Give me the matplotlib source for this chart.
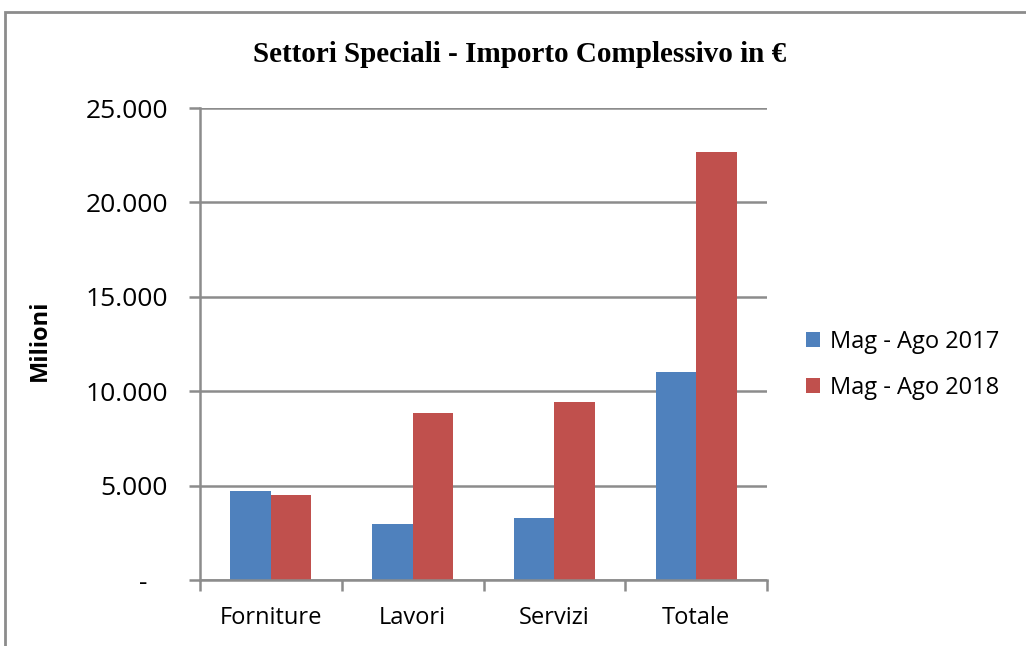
import matplotlib.pyplot as plt
import numpy as np
from matplotlib.patches import Rectangle
from matplotlib.ticker import FuncFormatter

categorie = ["Forniture", "Lavori", "Servizi", "Totale"]
serie_2017 = [4700, 2970, 3280, 11000]
serie_2018 = [4500, 8850, 9430, 22650]
nomi_serie = ["Mag - Ago 2017", "Mag - Ago 2018"]
colori = ["#4F81BD", "#C0504D"]

W, H = 1026, 646
fig = plt.figure(figsize=(W / 100, H / 100), dpi=100)

# cornice grigia del grafico
fig.patches.append(Rectangle((5 / W, -0.1), 1.2, 1 - 12 / H + 0.1, transform=fig.transFigure,
                             fill=False, edgecolor="#8c8c8c", linewidth=2))

ax = fig.add_axes([200 / W, 1 - 580 / H, (767 - 200) / W, (580 - 108) / H])

x = np.arange(len(categorie))
w = 0.285
ax.bar(x - w / 2, serie_2017, w, color=colori[0], label=nomi_serie[0])
ax.bar(x + w / 2, serie_2018, w, color=colori[1], label=nomi_serie[1])

ax.set_xlim(-0.5, len(categorie) - 0.5)
ax.set_ylim(0, 25000)
ax.set_yticks(np.arange(0, 25001, 5000))
ax.yaxis.set_major_formatter(FuncFormatter(lambda v, p: "-   " if v == 0 else f"{int(v):,}".replace(",", ".")))
ax.grid(axis="y", color="#8c8c8c", linewidth=1.8)
ax.set_axisbelow(True)

for s in ["top", "right"]:
    ax.spines[s].set_visible(False)
ax.spines["left"].set_color("#8c8c8c")
ax.spines["bottom"].set_color("#8c8c8c")
ax.spines["left"].set_linewidth(1.8)
ax.spines["bottom"].set_linewidth(1.8)

ax.set_xticks(x)
ax.set_xticklabels(categorie)
ax.set_xticks(np.arange(-0.5, len(categorie), 1), minor=True)
ax.tick_params(axis="x", which="major", length=0, pad=19, labelsize=17)
ax.tick_params(axis="x", which="minor", length=8, width=1.8, color="#8c8c8c")
ax.tick_params(axis="y", length=8, width=1.8, color="#8c8c8c", pad=15, labelsize=19)
for lab in ax.get_xticklabels() + ax.get_yticklabels():
    lab.set_fontfamily("Open Sans")

fig.text(40 / W, 1 - 340 / H, "Milioni", rotation=90, ha="center", va="center",
         fontsize=17, fontweight="bold", family="Open Sans")

fig.text(520 / W, 1 - 55 / H, "Settori Speciali - Importo Complessivo in €", ha="center", va="center",
         fontsize=21, fontweight="bold", family="Liberation Serif")

leg = fig.legend(loc="center left", bbox_to_anchor=(806 / W, 1 - 365 / H), frameon=False,
                 prop={"family": "Open Sans", "size": 17}, handlelength=0.6, handleheight=0.6,
                 handletextpad=0.4, labelspacing=0.95, borderpad=0, borderaxespad=0)

fig.savefig("out.png", dpi=100)
